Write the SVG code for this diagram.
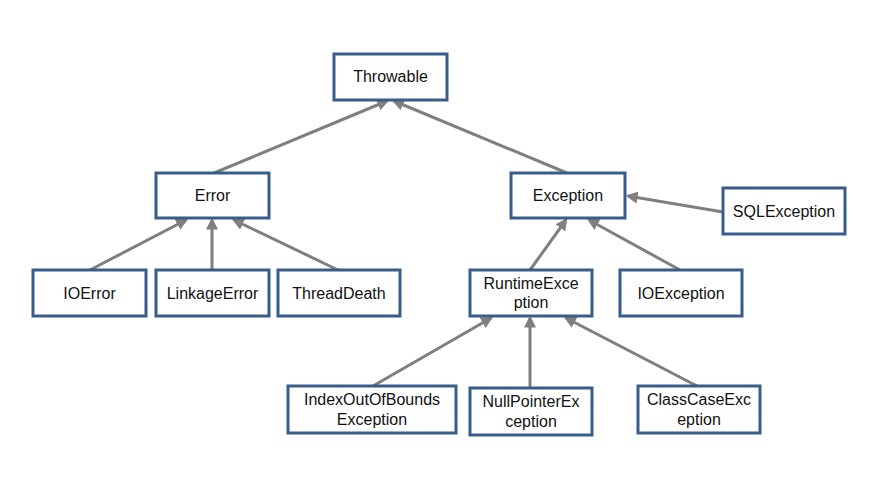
<svg xmlns="http://www.w3.org/2000/svg" width="881" height="479" viewBox="0 0 881 479">
<style>
.box{fill:#fff;stroke:#385d8a;stroke-width:3}
.t{font-family:"Liberation Sans",Arial,sans-serif;font-size:16px;fill:#111;text-anchor:middle}
.c{stroke:#7f7f7f;stroke-width:3;fill:none;marker-end:url(#ah)}
</style>
<defs>
<marker id="ah" viewBox="0 0 10 10" refX="8" refY="5" markerWidth="4" markerHeight="4" orient="auto" markerUnits="strokeWidth">
<path d="M0,0 L10,5 L0,10 Z" fill="#7f7f7f"/>
</marker>
</defs>
<rect width="881" height="479" fill="#fff"/>
<g id="connectors">
<line class="c" x1="214" y1="173" x2="387" y2="101"/>
<line class="c" x1="567" y1="173" x2="394" y2="101"/>
<line class="c" x1="90" y1="270" x2="186" y2="220"/>
<line class="c" x1="212" y1="270" x2="212" y2="220"/>
<line class="c" x1="338" y1="270" x2="234" y2="220"/>
<line class="c" x1="530" y1="270" x2="566" y2="220"/>
<line class="c" x1="680" y1="270" x2="589" y2="220"/>
<line class="c" x1="723" y1="212" x2="628" y2="196"/>
<line class="c" x1="373" y1="386" x2="491" y2="318"/>
<line class="c" x1="530" y1="388" x2="530" y2="318"/>
<line class="c" x1="697" y1="386" x2="566" y2="318"/>
</g>
<g id="throwable"><rect class="box" x="334" y="54" width="113" height="46"/><text class="t" x="390.5" y="82">Throwable</text></g>
<g id="error"><rect class="box" x="156" y="173" width="113" height="45"/><text class="t" x="212.5" y="201">Error</text></g>
<g id="exception"><rect class="box" x="511" y="173" width="114" height="45"/><text class="t" x="568" y="201">Exception</text></g>
<g id="sqlexception"><rect class="box" x="723" y="188" width="122" height="46"/><text class="t" x="784" y="217">SQLException</text></g>
<g id="ioerror"><rect class="box" x="33" y="270" width="113" height="46"/><text class="t" x="89.5" y="299">IOError</text></g>
<g id="linkageerror"><rect class="box" x="156" y="270" width="113" height="46"/><text class="t" x="212.5" y="299">LinkageError</text></g>
<g id="threaddeath"><rect class="box" x="278" y="270" width="122" height="46"/><text class="t" x="339" y="299">ThreadDeath</text></g>
<g id="runtimeexception"><rect class="box" x="470" y="270" width="122" height="46"/><text class="t" x="531" y="289">RuntimeExce</text><text class="t" x="531" y="308">ption</text></g>
<g id="ioexception"><rect class="box" x="620" y="270" width="122" height="46"/><text class="t" x="681" y="299">IOException</text></g>
<g id="indexoutofbounds"><rect class="box" x="288" y="386" width="168" height="47"/><text class="t" x="372" y="405">IndexOutOfBounds</text><text class="t" x="372" y="425">Exception</text></g>
<g id="nullpointer"><rect class="box" x="470" y="388" width="122" height="47"/><text class="t" x="531" y="407">NullPointerEx</text><text class="t" x="531" y="427">ception</text></g>
<g id="classcase"><rect class="box" x="638" y="386" width="122" height="47"/><text class="t" x="699" y="405">ClassCaseExc</text><text class="t" x="699" y="425">eption</text></g>
</svg>
